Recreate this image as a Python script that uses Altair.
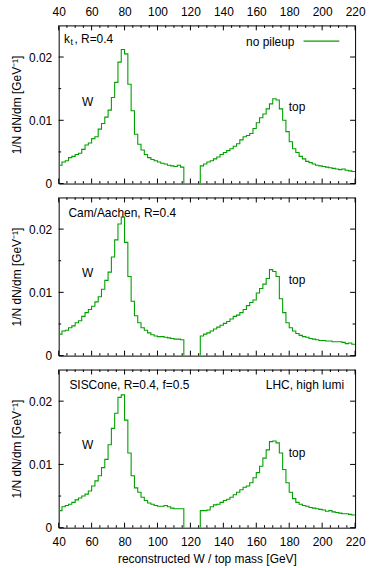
import altair as alt
import pandas as pd

# ---------------- data ----------------
BIN = 2
w_bin_starts = list(range(40, 116, 2))      # 38 bins, 40..114
top_bin_starts = list(range(126, 220, 2))   # 47 bins, 126..218

kt_w = [0.0029, 0.0034, 0.0036, 0.0041, 0.0043, 0.0046, 0.0048, 0.0054, 0.0061, 0.0064,
        0.0071, 0.0074, 0.0086, 0.0095, 0.0105, 0.0116, 0.0136, 0.0160, 0.0192, 0.0212,
        0.0205, 0.0157, 0.0115, 0.0078, 0.0062, 0.0053, 0.0046, 0.0041, 0.0038, 0.0036,
        0.0034, 0.0032, 0.0031, 0.0029, 0.0028, 0.0027, 0.0029, 0.0026]
kt_top = [0.0028, 0.0031, 0.0034, 0.0036, 0.0039, 0.0042, 0.0046, 0.0049, 0.0052, 0.0055,
          0.0059, 0.0063, 0.0069, 0.0074, 0.0076, 0.0079, 0.0087, 0.0096, 0.0104, 0.0110,
          0.0118, 0.0126, 0.0134, 0.0132, 0.0118, 0.0100, 0.0082, 0.0066, 0.0055, 0.0049,
          0.0043, 0.0039, 0.0035, 0.0033, 0.0031, 0.0029, 0.0028, 0.0027, 0.0026, 0.0025,
          0.0024, 0.0023, 0.0022, 0.0023, 0.0021, 0.0020, 0.0019]

cam_w = [0.0034, 0.0039, 0.0040, 0.0044, 0.0047, 0.0052, 0.0055, 0.0062, 0.0068, 0.0073,
         0.0078, 0.0085, 0.0093, 0.0105, 0.0119, 0.0132, 0.0156, 0.0183, 0.0208, 0.0219,
         0.0179, 0.0125, 0.0086, 0.0063, 0.0052, 0.0044, 0.0040, 0.0036, 0.0033, 0.0031,
         0.0030, 0.0030, 0.0029, 0.0028, 0.0027, 0.0026, 0.0026, 0.0025]
cam_top = [0.0031, 0.0034, 0.0036, 0.0039, 0.0042, 0.0045, 0.0048, 0.0051, 0.0054, 0.0058,
           0.0062, 0.0064, 0.0068, 0.0073, 0.0079, 0.0084, 0.0088, 0.0099, 0.0106, 0.0113,
           0.0122, 0.0136, 0.0133, 0.0125, 0.0090, 0.0068, 0.0052, 0.0044, 0.0039, 0.0035,
           0.0032, 0.0030, 0.0029, 0.0027, 0.0026, 0.0025, 0.0024, 0.0024, 0.0023, 0.0023,
           0.0022, 0.0022, 0.0022, 0.0021, 0.0019, 0.0020, 0.0018]

sis_w = [0.0027, 0.0033, 0.0035, 0.0037, 0.0040, 0.0044, 0.0047, 0.0050, 0.0053, 0.0058,
         0.0066, 0.0074, 0.0082, 0.0095, 0.0108, 0.0131, 0.0157, 0.0181, 0.0206, 0.0210,
         0.0170, 0.0118, 0.0082, 0.0063, 0.0056, 0.0048, 0.0043, 0.0039, 0.0037, 0.0035,
         0.0034, 0.0034, 0.0035, 0.0033, 0.0031, 0.0030, 0.0030, 0.0030]
sis_top = [0.0027, 0.0027, 0.0028, 0.0033, 0.0036, 0.0037, 0.0040, 0.0043, 0.0045, 0.0048,
           0.0052, 0.0056, 0.0060, 0.0064, 0.0066, 0.0071, 0.0079, 0.0087, 0.0097, 0.0110,
           0.0123, 0.0136, 0.0137, 0.0134, 0.0118, 0.0092, 0.0071, 0.0056, 0.0046, 0.0040,
           0.0037, 0.0035, 0.0034, 0.0032, 0.0031, 0.0030, 0.0029, 0.0028, 0.0026, 0.0027,
           0.0025, 0.0024, 0.0023, 0.0022, 0.0022, 0.0021, 0.0020]

x_major = list(range(40, 221, 20))
x_minor = [v for v in range(45, 220, 5) if v % 20 != 0]
y_major = [0, 0.01, 0.02]
y_minor = [0.005, 0.015]

panel_labels = ["k", "Cam/Aachen, R=0.4", "SISCone, R=0.4, f=0.5"]

# ---------------- style ----------------
W, H = 298, 159
GREEN = "#00a000"
FONT = "Liberation Sans"
FS = 12
xscale = alt.Scale(domain=[40, 220], nice=False, zero=False)
yscale = alt.Scale(domain=[0, 0.025], nice=False, zero=False)


def step_frame(w_vals, top_vals):
    rows = []
    i = 0
    for s, v in zip(w_bin_starts, w_vals):
        rows.append({"m": s, "v": v, "seg": 0, "i": i}); i += 1
    rows.append({"m": w_bin_starts[-1] + BIN, "v": 0.0, "seg": 0, "i": i}); i += 1
    rows.append({"m": top_bin_starts[0], "v": 0.0, "seg": 1, "i": i}); i += 1
    for s, v in zip(top_bin_starts, top_vals):
        rows.append({"m": s, "v": v, "seg": 1, "i": i}); i += 1
    rows.append({"m": top_bin_starts[-1] + BIN, "v": top_vals[-1], "seg": 1, "i": i})
    return pd.DataFrame(rows)


def panel(idx, w_vals, top_vals):
    if idx == 0:
        xaxis = alt.Axis(orient="top", values=x_major, ticks=False, tickSize=0, domain=False,
                         grid=False, labelPadding=7, title=None, labelFlush=False)
    elif idx == 2:
        xaxis = alt.Axis(orient="bottom", values=x_major, ticks=False, tickSize=0, domain=False,
                         grid=False, labelPadding=9, title="reconstructed W / top mass [GeV]",
                         titlePadding=6, labelFlush=False)
    else:
        xaxis = None
    yaxis = alt.Axis(values=y_major, format="~g", ticks=False, tickSize=0, domain=False,
                     grid=False, labelPadding=7, title="1/N dN/dm [GeV⁻¹]", titlePadding=5)

    def X(field):
        return alt.X(field, type="quantitative", scale=xscale, axis=xaxis)

    def Y(field):
        return alt.Y(field, type="quantitative", scale=yscale, axis=yaxis)

    def text_layer(df, align="left", size=FS, dx=0, dy=0):
        return alt.Chart(df).mark_text(align=align, baseline="middle", font=FONT,
                                       fontSize=size, color="black", dx=dx, dy=dy).encode(
            x=X("m"), y=Y("v"), text="t:N")

    line = alt.Chart(step_frame(w_vals, top_vals)).mark_line(
        interpolate="step-after", color=GREEN, strokeWidth=1.1, clip=True).encode(
        x=X("m"), y=Y("v"), detail="seg:N", order="i:Q")

    layers = [line]

    # inside tick marks (gnuplot style, mirrored)
    for vals, ln in ((x_major, 5), (x_minor, 2.5)):
        d = pd.DataFrame({"m": vals})
        layers.append(alt.Chart(d).mark_rule(color="black", strokeWidth=1).encode(
            x=X("m"), y=alt.value(H), y2=alt.value(H - ln)))
        layers.append(alt.Chart(d).mark_rule(color="black", strokeWidth=1).encode(
            x=X("m"), y=alt.value(0), y2=alt.value(ln)))
    for vals, ln in ((y_major, 5), (y_minor, 2.5)):
        d = pd.DataFrame({"v": vals})
        layers.append(alt.Chart(d).mark_rule(color="black", strokeWidth=1).encode(
            y=Y("v"), x=alt.value(0), x2=alt.value(ln)))
        layers.append(alt.Chart(d).mark_rule(color="black", strokeWidth=1).encode(
            y=Y("v"), x=alt.value(W), x2=alt.value(W - ln)))

    wv = [0.0129, 0.0130, 0.0131][idx]
    tv = [0.0121, 0.0119, 0.0118][idx]
    layers.append(text_layer(pd.DataFrame({"m": [57.5], "v": [wv], "t": ["W"]}), align="center"))
    layers.append(text_layer(pd.DataFrame({"m": [179.7], "v": [tv], "t": ["top"]})))

    if idx == 0:
        lab = pd.DataFrame({"m": [43.2], "v": [0.0229], "t": ["k"]})
        layers.append(text_layer(lab))
        layers.append(text_layer(lab.assign(t="t"), size=9, dx=6.5, dy=3))
        layers.append(text_layer(lab.assign(t=", R=0.4"), dx=10.5))
        # legend
        layers.append(text_layer(pd.DataFrame({"m": [183.2], "v": [0.0224], "t": ["no pileup"]}),
                                 align="right"))
        leg = pd.DataFrame({"m": [188.7], "b": [210.4], "v": [0.0225]})
        layers.append(alt.Chart(leg).mark_rule(color=GREEN, strokeWidth=1.3).encode(
            x=X("m"), x2="b:Q", y=Y("v")))
    elif idx == 1:
        layers.append(text_layer(pd.DataFrame({"m": [45.9], "v": [0.0225], "t": [panel_labels[1]]})))
    else:
        layers.append(text_layer(pd.DataFrame({"m": [46.5], "v": [0.0226], "t": [panel_labels[2]]})))
        layers.append(text_layer(pd.DataFrame({"m": [213.3], "v": [0.0226], "t": ["LHC, high lumi"]}),
                                 align="right"))

    return alt.layer(*layers).properties(width=W, height=H)


chart = alt.vconcat(
    panel(0, kt_w, kt_top),
    panel(1, cam_w, cam_top),
    panel(2, sis_w, sis_top),
    spacing=14,
    bounds="flush",
).properties(
    padding={"left": 10, "top": 3, "right": 5, "bottom": 2}
).configure(
    font=FONT
).configure_view(
    stroke="black", strokeWidth=1
).configure_axis(
    labelFont=FONT, titleFont=FONT, labelFontSize=FS, titleFontSize=FS,
    labelColor="black", titleColor="black", titleFontWeight="normal"
)

chart.save("out.html", embed_options={"renderer": "svg", "actions": False})
